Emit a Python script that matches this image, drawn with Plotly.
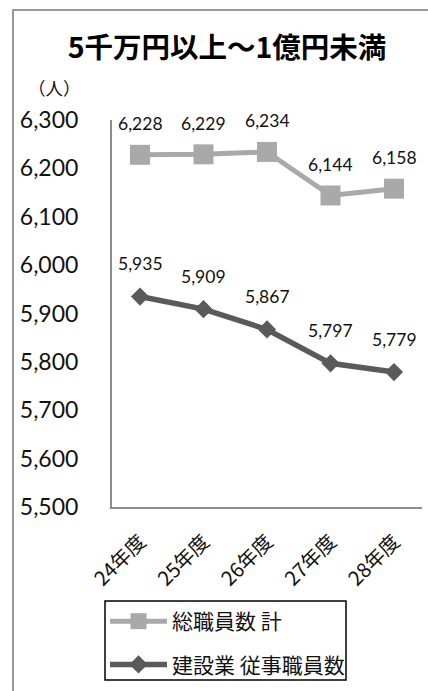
import plotly.graph_objects as go

categories = ["24年度", "25年度", "26年度", "27年度", "28年度"]
total_staff = [6228, 6229, 6234, 6144, 6158]
construction_staff = [5935, 5909, 5867, 5797, 5779]
series_names = ["総職員数 計", "建設業 従事職員数"]
title_text = "5千万円以上～1億円未満"
unit_text = "（人）"

W, H = 428, 691
L, R, T, B = 112, 6, 120, 184
pw, ph = W - L - R, H - T - B

def px_to_paper_x(px):
    return (px - L) / pw

def px_to_paper_y(py):
    return (H - B - py) / ph

NUM_FONT = "Lato, Noto Sans CJK JP, sans-serif"
JP_FONT = "Noto Sans CJK JP, sans-serif"

light = "#A9A9A9"
dark = "#5A5A5A"

fig = go.Figure()
fig.add_trace(go.Scatter(
    x=categories, y=total_staff, name=series_names[0], legendgroup="a",
    mode="lines+markers",
    line=dict(color=light, width=5),
    marker=dict(symbol="square", size=20, color=light),
    hoverinfo="skip",
))
fig.add_trace(go.Scatter(
    x=categories, y=construction_staff, name=series_names[1], legendgroup="b",
    mode="lines+markers",
    line=dict(color=dark, width=5.5),
    marker=dict(symbol="diamond", size=14, color=dark),
    hoverinfo="skip",
))

annotations = []
for xs, ys, shift in [(categories, total_staff, 31), (categories, construction_staff, 33)]:
    for xv, yv in zip(xs, ys):
        annotations.append(dict(
            x=xv, y=yv, xref="x", yref="y", text=f"{yv:,}", showarrow=False,
            yshift=shift, font=dict(family=NUM_FONT, size=17.5, color="#111111"),
        ))

annotations.append(dict(
    x=px_to_paper_x(54), y=px_to_paper_y(88), xref="paper", yref="paper",
    text=unit_text, showarrow=False, xanchor="center", yanchor="middle",
    font=dict(family=JP_FONT, size=17.5, color="#111111"),
))

fig.update_layout(
    width=W, height=H,
    margin=dict(l=L, r=R, t=T, b=B),
    paper_bgcolor="white", plot_bgcolor="white",
    title=dict(
        text=f"<b>{title_text}</b>", x=227 / W, y=1 - 48 / H,
        xanchor="center", yanchor="middle", xref="container", yref="container",
        font=dict(family=JP_FONT, size=28.5, color="#000000"),
    ),
    showlegend=True,
    legend=dict(
        x=px_to_paper_x(105), y=px_to_paper_y(601), xanchor="left", yanchor="top",
        borderwidth=0, bgcolor="rgba(0,0,0,0)",
        font=dict(family=JP_FONT, size=21, color="#111111"),
        traceorder="grouped", tracegroupgap=13, itemwidth=57,
    ),
    xaxis=dict(
        type="category", showgrid=False, showline=True, linecolor="#8C8C8C", linewidth=2,
        tickangle=-45, ticks="", ticklabelstandoff=13,
        tickfont=dict(family=JP_FONT, size=20, color="#111111"),
        zeroline=False, fixedrange=True,
    ),
    yaxis=dict(
        range=[5500, 6300], dtick=100, tickformat=",", showgrid=False, showline=True,
        linecolor="#8C8C8C", linewidth=2, ticks="", ticklabelstandoff=27,
        tickfont=dict(family=NUM_FONT, size=23, color="#111111"),
        zeroline=False, fixedrange=True,
    ),
    annotations=annotations,
    shapes=[
        dict(type="rect", xref="paper", yref="paper",
             x0=px_to_paper_x(13), x1=px_to_paper_x(440),
             y0=px_to_paper_y(700), y1=px_to_paper_y(10),
             line=dict(color="#9A9A9A", width=2), layer="below"),
        dict(type="rect", xref="paper", yref="paper",
             x0=px_to_paper_x(105), x1=px_to_paper_x(346),
             y0=px_to_paper_y(680), y1=px_to_paper_y(601),
             line=dict(color="#000000", width=1.5), fillcolor="white", layer="below"),
    ],
)

fig.write_html(
    "out.html",
    config={"displayModeBar": False},
    post_script="document.body.style.margin='0';document.body.style.overflow='hidden';",
)
